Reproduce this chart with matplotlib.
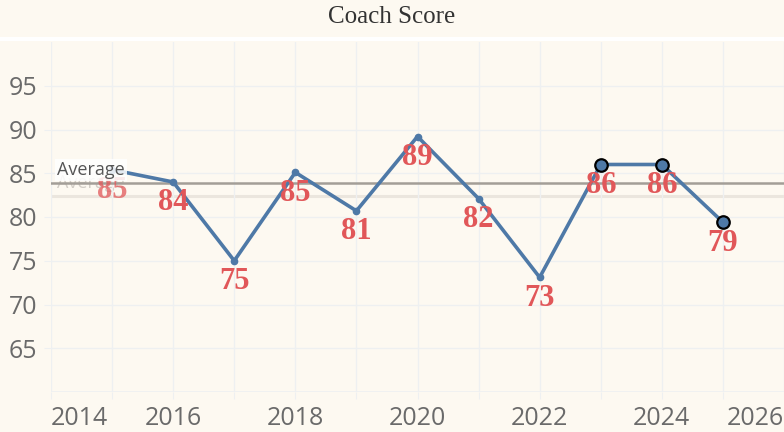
import matplotlib.pyplot as plt
from matplotlib.patches import Rectangle

years = [2015, 2016, 2017, 2018, 2019, 2020, 2021, 2022, 2023, 2024, 2025]
scores = [85.4, 84.0, 75.0, 85.1, 80.7, 89.2, 82.1, 73.1, 86.0, 86.0, 79.4]
highlight_years = [2023, 2024, 2025]
ref_average = 83.9
yticks = [65, 70, 75, 80, 85, 90, 95]
xticks = list(range(2014, 2027))

bg = '#fdf9f1'
grid_c = '#eef0f1'
blue = '#4e79a7'
red = '#e15759'

fig = plt.figure(figsize=(7.84, 4.32), dpi=100, facecolor=bg)
ax = fig.add_axes([51 / 784, 1 - 392 / 432, 1 - 51 / 784, (392 - 42) / 432])
ax.set_facecolor(bg)
fig.patches.append(Rectangle((0, 1 - 41 / 432), 1, 4 / 432, transform=fig.transFigure,
                             facecolor='white', edgecolor='none'))

ax.set_xlim(2014, 2026)
ax.set_ylim(60, 100)
ax.set_xticks(xticks)
ax.set_xticklabels([str(y) if y % 2 == 0 else '' for y in xticks])
ax.set_yticks(yticks)
ax.grid(True, color=grid_c, lw=1)
ax.axhline(60, color=grid_c, lw=1.2)
for s in ax.spines.values():
    s.set_visible(False)
ax.tick_params(axis='both', colors=grid_c, length=5, labelcolor='#6a6a6a',
               labelsize=18)
for lab in ax.get_xticklabels() + ax.get_yticklabels():
    lab.set_fontfamily('Open Sans')
ax.tick_params(axis='y', pad=5)
ax.tick_params(axis='x', pad=5)
xl = ax.get_xticklabels()
xl[0].set_ha('left')
xl[-1].set_ha('right')

mean_score = sum(scores) / len(scores)

# averages
ax.axhline(mean_score, color='#ebe6de', lw=2.2, zorder=1)
ax.annotate('Average', xy=(2014.1, mean_score), xytext=(0, 3), textcoords='offset points',
            ha='left', va='bottom', fontsize=13, family='Open Sans', color='#d2cdc6', zorder=1)
ax.axhline(ref_average, color='#a39e97', lw=1.8, zorder=2)

ax.plot(years, scores, color=blue, lw=2.6, marker='o', ms=4.5, zorder=3)
hx = [y for y in highlight_years]
hy = [scores[years.index(y)] for y in highlight_years]
ax.plot(hx, hy, ls='none', marker='o', ms=9, mfc=blue, mec='black', mew=1.6, zorder=4)

ax.annotate('Average', xy=(2014.1, ref_average), xytext=(0, 3), textcoords='offset points',
            ha='left', va='bottom', fontsize=13, family='Open Sans', color='#555555', zorder=6,
            bbox=dict(boxstyle='square,pad=0.12', fc='white', ec='none', alpha=0.85))

for i, (x, v) in enumerate(zip(years, scores)):
    ax.annotate(f'{v:.0f}', xy=(x, v), xytext=(0, -21), textcoords='offset pixels',
                ha='center', va='center', fontsize=22, fontweight='bold',
                family='Liberation Serif', color=red, zorder=5,
                alpha=0.75 if i == 0 else 1.0)

fig.text(0.5, 1 - 17 / 432, 'Coach Score', ha='center', va='center', fontsize=18,
         family='Liberation Serif', color='#333333')

fig.savefig('out.png', dpi=100, facecolor=bg)
